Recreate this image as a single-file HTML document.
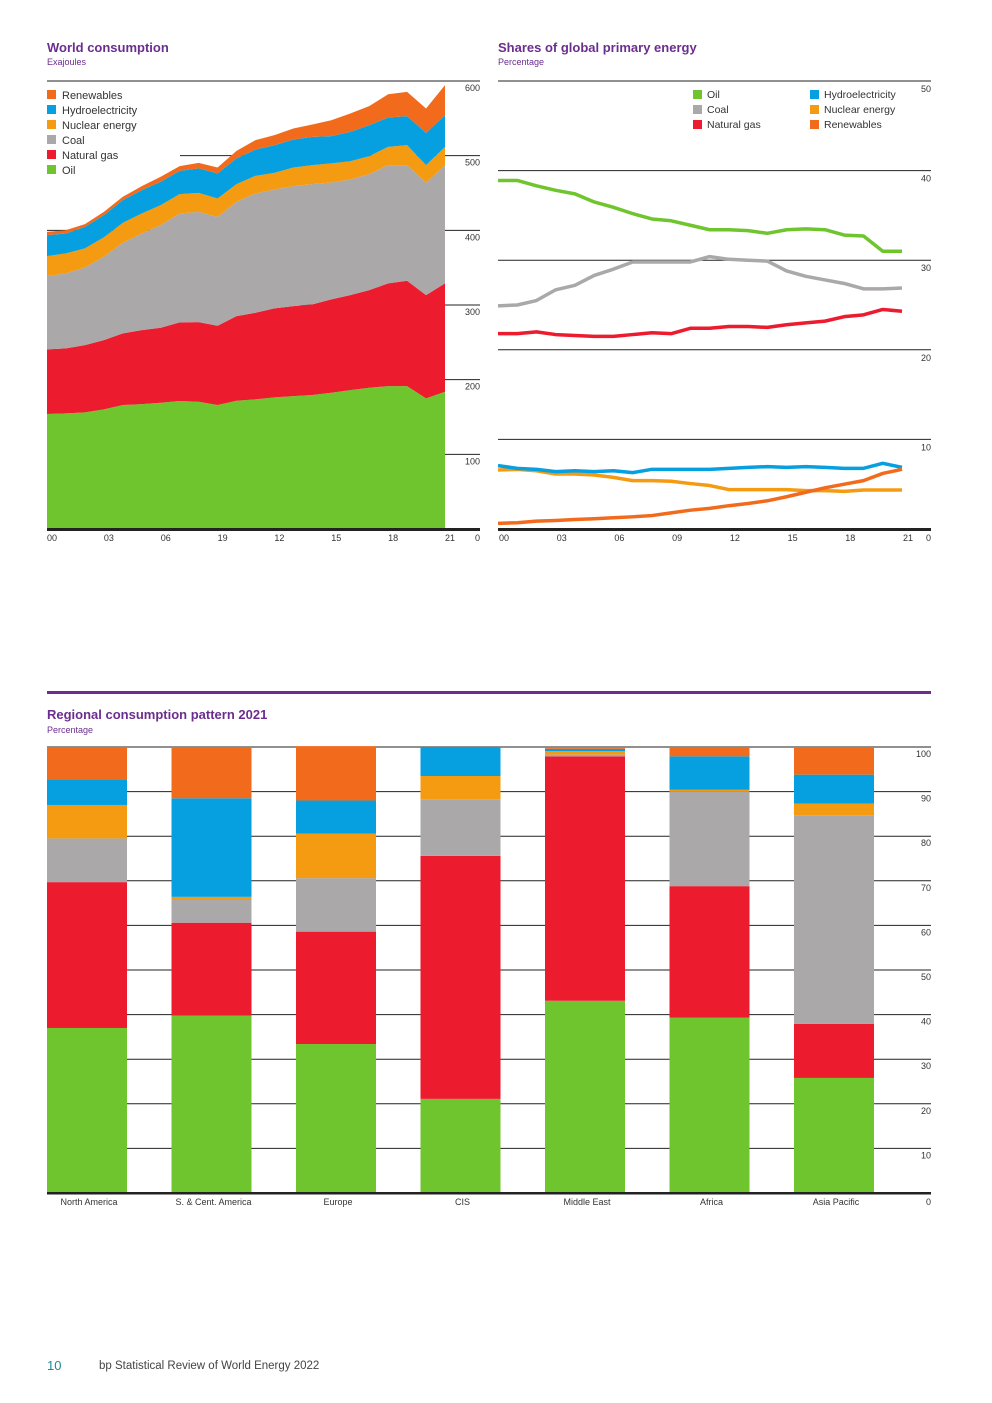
<!DOCTYPE html>
<html><head><meta charset="utf-8"><style>
html,body{margin:0;padding:0;background:#fff;}
svg{display:block;font-family:"Liberation Sans",sans-serif;}
</style></head><body>
<svg id="page" width="992" height="1403" viewBox="0 0 992 1403">
<g>
<text x="47" y="52" font-size="13" font-weight="bold" fill="#6b2e8e">World consumption</text>
<text x="47" y="65" font-size="9" fill="#6b2e8e">Exajoules</text>
<g id="c1grid"></g><g id="c1areas"></g><g id="c1axis"></g><g id="c1legend"></g>
</g>
<g>
<text x="498" y="52" font-size="13" font-weight="bold" fill="#6b2e8e">Shares of global primary energy</text>
<text x="498" y="65" font-size="9" fill="#6b2e8e">Percentage</text>
<g id="c2grid"></g><g id="c2lines"></g><g id="c2axis"></g><g id="c2legend"></g>
</g>
<rect x="47" y="691" width="884" height="3" fill="#6b2e8e"/>
<g>
<text x="47" y="719" font-size="13" font-weight="bold" fill="#6b2e8e">Regional consumption pattern 2021</text>
<text x="47" y="733" font-size="9" fill="#6b2e8e">Percentage</text>
<g id="c3grid"></g><g id="c3bars"></g><g id="c3axis"></g>
</g>
<text x="47" y="1370" font-size="13" fill="#1a8a9a">10</text>
<text x="99" y="1369" font-size="11.5" fill="#444">bp Statistical Review of World Energy 2022</text>
</svg>
<script>
const NS="http://www.w3.org/2000/svg";
const COLORS={oil:"#6fc52e",gas:"#ec1b2e",coal:"#aaa8a9",nuclear:"#f59b12",hydro:"#06a0e0",renew:"#f26b1c"};
// Chart 1 data (EJ)
const c1Years=[2000,2001,2002,2003,2004,2005,2006,2007,2008,2009,2010,2011,2012,2013,2014,2015,2016,2017,2018,2019,2020,2021];
const c1XLabels=["00","03","06","19","12","15","18","21"];
const c1YTicks=[100,200,300,400,500,600];
const c1Oil=[154,154.8,156.2,160.2,166,167.3,169.1,171.4,170.4,166,171.8,173.6,176.3,178,179.4,182.5,186,189.2,191.4,191.4,175,183.8];
const c1Gas=[86.5,87.1,90.1,92.8,96,99.1,100.4,105.3,106.7,106.2,113.3,116,119.1,120.5,121.4,125,127.2,130.8,137.5,141,138.2,145.1];
const c1Coal=[98.2,100.4,104,111.6,121.3,129.4,137.5,145.9,147.7,145.8,153.1,159.8,159.3,160.7,161.1,156.6,154.9,155.2,158.4,154.9,150.5,158.4];
const c1Nuclear=[26.8,26.8,25.5,25.9,26.7,26.8,26.7,25.9,25.4,24.7,23.7,23.6,22.3,25,25.4,25.5,24.5,24.1,24.5,26.8,23.6,24.5];
const c1Hydro=[28.1,26.7,28.9,29.9,30.4,31.2,31.3,31.2,32.7,33.5,34.4,35.3,37,37.5,37.9,36.5,39.3,41.5,39.3,38.8,43.3,42.4];
const c1Renew=[4.4,4.5,3.6,4.4,4.5,5.4,6.7,6.3,7.5,8,10.2,12.5,13.5,14.7,16.6,21.4,24.6,25.5,31.2,32.5,32.6,40.2];
// Chart 2 data (%)
const c2Years=c1Years;
const c2XLabels=["00","03","06","09","12","15","18","21"];
const c2YTicks=[10,20,30,40,50];
const c2Oil=[38.9,38.9,38.3,37.8,37.4,36.5,35.9,35.2,34.6,34.4,33.9,33.4,33.4,33.3,33.0,33.4,33.5,33.4,32.8,32.7,31.0,31.0];
const c2Coal=[24.9,25.0,25.5,26.7,27.2,28.3,29.0,29.8,29.8,29.8,29.8,30.4,30.1,30.0,29.9,28.8,28.2,27.8,27.4,26.8,26.8,26.9];
const c2Gas=[21.8,21.8,22.0,21.7,21.6,21.5,21.5,21.7,21.9,21.8,22.4,22.4,22.6,22.6,22.5,22.8,23.0,23.2,23.7,23.9,24.5,24.3];
const c2Hydro=[7.07,6.77,6.66,6.4,6.5,6.4,6.5,6.29,6.66,6.66,6.66,6.66,6.77,6.88,6.96,6.88,6.96,6.88,6.77,6.77,7.33,6.88];
const c2Nuclear=[6.58,6.66,6.5,6.14,6.14,6.03,5.76,5.4,5.4,5.33,5.07,4.85,4.4,4.4,4.4,4.4,4.28,4.28,4.2,4.35,4.35,4.35];
const c2Renew=[0.63,0.7,0.88,0.95,1.06,1.14,1.25,1.36,1.5,1.8,2.1,2.3,2.6,2.85,3.15,3.6,4.1,4.6,5.0,5.4,6.2,6.66];
// Chart 3 data (%)
const c3Regions=["North America","S. & Cent. America","Europe","CIS","Middle East","Africa","Asia Pacific"];
const c3YTicks=[10,20,30,40,50,60,70,80,90,100];
const c3Oil=[37,39.8,33.4,21.1,43.1,39.3,25.8];
const c3Gas=[32.7,20.8,25.2,54.5,54.8,29.5,12.1];
const c3Coal=[9.8,5.1,12,12.7,0.4,21.2,46.8];
const c3Nuclear=[7.5,0.7,10,5.2,0.8,0.4,2.6];
const c3Hydro=[5.6,22.1,7.4,6.5,0.5,7.5,6.5];
const c3Renew=[7.4,11.5,12.2,0,0.4,2.1,6.2];

function el(tag,attrs,parent){const e=document.createElementNS(NS,tag);for(const k in attrs)e.setAttribute(k,attrs[k]);parent.appendChild(e);return e;}
function txt(x,y,s,size,anchor,parent,fill){const t=el("text",{x:x,y:y,"font-size":size,"text-anchor":anchor,fill:fill||"#333"},parent);t.textContent=s;return t;}

// ---- Chart 1 ----
(function(){
const x=i=>47+(445-47)*(c1Years[i]-2000)/21;
const y=v=>529-(529-81)*v/600;
const grid=document.getElementById("c1grid");
c1YTicks.forEach(v=>{const l=el("line",{x1:47,x2:480,y1:y(v),y2:y(v),stroke:"#222","stroke-width":1},grid);

});
const series=[["oil",c1Oil],["gas",c1Gas],["coal",c1Coal],["nuclear",c1Nuclear],["hydro",c1Hydro],["renew",c1Renew]];
const areas=document.getElementById("c1areas");
let base=c1Years.map(()=>0);
series.forEach(([k,arr])=>{
 const top=base.map((b,i)=>b+arr[i]);
 let d="M"+c1Years.map((_,i)=>x(i)+","+y(top[i])).join("L");
 for(let i=c1Years.length-1;i>=0;i--)d+="L"+x(i)+","+y(base[i]);
 const p=el("path",{d:d+"Z",fill:COLORS[k]},areas);
 
 
 base=top;});
const ax=document.getElementById("c1axis");
const bl=el("rect",{x:47,y:528,width:433,height:3,fill:"#222"},ax);


c1XLabels.forEach((s,j)=>{const t=txt(x(j*3)+5,541,s,9,"middle",ax);

});
c1YTicks.forEach(v=>{const t=txt(480,y(v)+10,String(v),9,"end",ax);

});
const z=txt(480,541,"0",9,"end",ax);


const lg=document.getElementById("c1legend");
const bg=el("rect",{x:47,y:150,width:133,height:12,fill:"#fff"},lg);


[["renew","Renewables"],["hydro","Hydroelectricity"],["nuclear","Nuclear energy"],["coal","Coal"],["gas","Natural gas"],["oil","Oil"]].forEach(([k,s],i)=>{
 const g=el("g",{},lg);
 
 
 el("rect",{x:47,y:90+i*15,width:9,height:9,fill:COLORS[k]},g);
 txt(62,99+i*15,s,11,"start",g);});
})();

// ---- Chart 2 ----
(function(){
const x=i=>498+(902-498)*(c2Years[i]-2000)/21;
const y=v=>529-(529-81)*v/50;
const grid=document.getElementById("c2grid");
c2YTicks.forEach(v=>{const l=el("line",{x1:498,x2:931,y1:y(v),y2:y(v),stroke:"#222","stroke-width":1},grid);

});
const lines=document.getElementById("c2lines");
[["nuclear",c2Nuclear],["hydro",c2Hydro],["renew",c2Renew],["gas",c2Gas],["coal",c2Coal],["oil",c2Oil]].forEach(([k,arr])=>{
 const p=el("polyline",{points:arr.map((v,i)=>x(i)+","+y(v)).join(" "),fill:"none",stroke:COLORS[k],"stroke-width":3.5,"stroke-linejoin":"round"},lines);
 
 });
const ax=document.getElementById("c2axis");
const bl=el("rect",{x:498,y:528,width:433,height:3,fill:"#222"},ax);


c2XLabels.forEach((s,j)=>{const t=txt(x(j*3)+6,541,s,9,"middle",ax);

});
c2YTicks.forEach(v=>{const t=txt(931,y(v)+11,String(v),9,"end",ax);

});
const z=txt(931,541,"0",9,"end",ax);


const lg=document.getElementById("c2legend");
[["oil","Oil",693,0],["coal","Coal",693,1],["gas","Natural gas",693,2],["hydro","Hydroelectricity",810,0],["nuclear","Nuclear energy",810,1],["renew","Renewables",810,2]].forEach(([k,s,lx,r])=>{
 const g=el("g",{},lg);
 
 
 el("rect",{x:lx,y:90+r*15,width:9,height:9,fill:COLORS[k]},g);
 txt(lx+14,98+r*15,s,10.5,"start",g);});
})();

// ---- Chart 3 ----
(function(){
const bx=i=>47+i*124.5;
const bw=80;
const y=v=>1193-(1193-747)*v/100;
const grid=document.getElementById("c3grid");
c3YTicks.forEach(v=>{const l=el("line",{x1:47,x2:931,y1:y(v),y2:y(v),stroke:"#222","stroke-width":1},grid);

});
const bars=document.getElementById("c3bars");
const series=[["oil",c3Oil],["gas",c3Gas],["coal",c3Coal],["nuclear",c3Nuclear],["hydro",c3Hydro],["renew",c3Renew]];
c3Regions.forEach((r,i)=>{
 let base=0;
 series.forEach(([k,arr])=>{
  const v=arr[i];
  const rc=el("rect",{x:bx(i),y:y(base+v),width:bw,height:Math.max(0,y(base)-y(base+v)),fill:COLORS[k]},bars);
  
  
  base+=v;});});
const ax=document.getElementById("c3axis");
const bl=el("rect",{x:47,y:1192,width:884,height:2.5,fill:"#222"},ax);


c3Regions.forEach((r,i)=>{const t=txt(bx(i)+42,1205,r,9,"middle",ax);

});
c3YTicks.forEach(v=>{const t=txt(931,y(v)+10,String(v),9,"end",ax);

});
const z=txt(931,1205,"0",9,"end",ax);


})();
</script>
</body></html>
